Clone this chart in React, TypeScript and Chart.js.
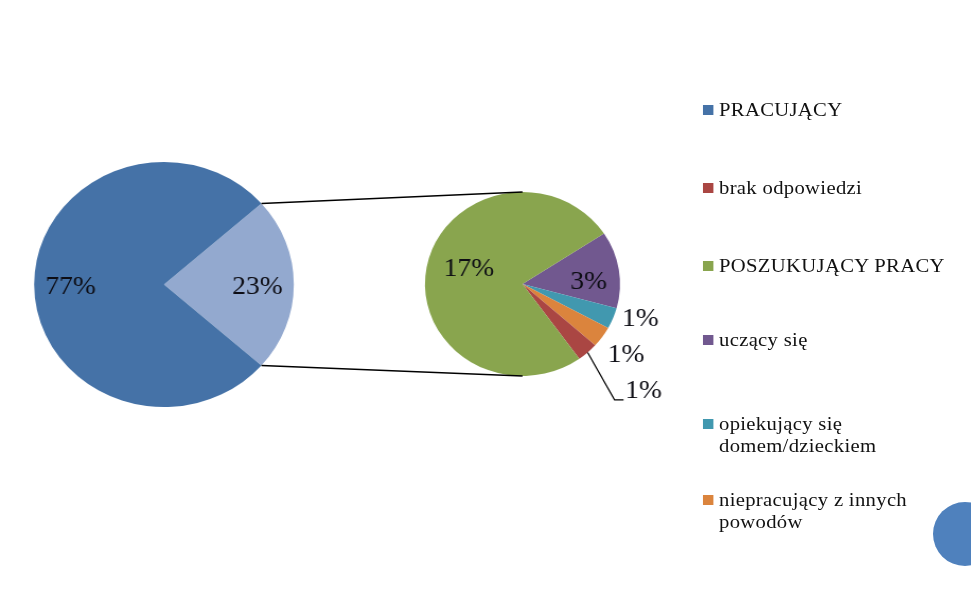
import React, { useEffect, useRef } from "react";
import { Chart, registerables } from "chart.js";

Chart.register(...registerables);

// ---------- data ----------
const workingLabel = "PRACUJĄCY";
const workingShare = 77;
const detailCategories = [
  "uczący się",
  "opiekujący się domem/dzieckiem",
  "niepracujący z innych powodów",
  "brak odpowiedzi",
  "POSZUKUJĄCY PRACY",
];
const detailValues = [3.1, 0.85, 0.85, 0.8, 17.4];
const legendCategories = [
  "PRACUJĄCY",
  "brak odpowiedzi",
  "POSZUKUJĄCY PRACY",
  "uczący się",
  "opiekujący się domem/dzieckiem",
  "niepracujący z innych powodów",
];
const legendText = [
  "PRACUJĄCY",
  "brak odpowiedzi",
  "POSZUKUJĄCY PRACY",
  "uczący się",
  "opiekujący się\ndomem/dzieckiem",
  "niepracujący z innych\npowodów",
];

// ---------- style / layout ----------
const OUTER_W = 971;
const INNER_W = 916;
const H = 601;
const SX = OUTER_W / INNER_W;

const colorOf: Record<string, string> = {
  "PRACUJĄCY": "#4572A7",
  "brak odpowiedzi": "#AA4643",
  "POSZUKUJĄCY PRACY": "#89A54E",
  "uczący się": "#71588F",
  "opiekujący się domem/dzieckiem": "#4198AF",
  "niepracujący z innych powodów": "#DB843D",
};
const otherColor = "#93A9CF";
const labelColor = "#0d0d14";
const serif = "'Liberation Serif', 'Times New Roman', serif";
const labelFont = `26px ${serif}`;
const labelDy = 2.5;

const mainCenter = { x: 154.7, y: 284.5, r: 122.5 };
const detailCenter = { x: 492.9, y: 284, r: 92 };
const mainLabelDist = 0.72;
// per-slice label placement for detail pie: distance (x radius), angular nudge (deg)
const detailLabelDist = [0.68, 1.26, 1.3, 1.68, 0.58];
const detailLabelShift = [5.4, -5.5, 0, -5.7, 8.4];
const detailLeader = [false, false, false, true, false];
const detailRotation = 56.7;
const legendRowTops = [99, 177, 255, 329, 412.5, 489];

const pct = (v: number) => Math.round(v) + "%";
const sum = (a: number[]) => a.reduce((s, v) => s + v, 0);

function paddingFor(c: { x: number; y: number; r: number }) {
  return {
    left: c.x - c.r,
    top: c.y - c.r,
    right: INNER_W - (c.x + c.r),
    bottom: H - (c.y + c.r),
  };
}

export default function App() {
  const leftRef = useRef<HTMLCanvasElement>(null);
  const rightRef = useRef<HTMLCanvasElement>(null);

  useEffect(() => {
    const otherShare = sum(detailValues);
    const mainValues = [otherShare, workingShare];
    const mainTotal = sum(mainValues);
    const mainRotation = 90 - (otherShare / mainTotal) * 180;

    const mainLabelsPlugin = {
      id: "mainLabels",
      afterDatasetsDraw(chart: any) {
        const ctx = chart.ctx;
        const meta = chart.getDatasetMeta(0);
        const vals = chart.data.datasets[0].data as number[];
        ctx.save();
        ctx.font = labelFont;
        ctx.fillStyle = labelColor;
        ctx.textAlign = "center";
        ctx.textBaseline = "middle";
        meta.data.forEach((arc: any, i: number) => {
          const a = (arc.startAngle + arc.endAngle) / 2;
          const r = arc.outerRadius * mainLabelDist;
          ctx.fillText(pct(vals[i]), arc.x + Math.cos(a) * r, arc.y + Math.sin(a) * r + labelDy);
        });
        ctx.restore();
      },
    };

    const left = new Chart(leftRef.current!, {
      type: "pie",
      data: {
        labels: ["pozostali", workingLabel],
        datasets: [
          {
            data: mainValues,
            backgroundColor: [otherColor, colorOf[workingLabel]],
            borderWidth: 0,
            hoverOffset: 0,
          } as any,
        ],
      },
      options: {
        responsive: false,
        animation: false,
        events: [],
        rotation: mainRotation,
        radius: mainCenter.r,
        layout: { padding: paddingFor(mainCenter) },
        plugins: { legend: { display: false }, tooltip: { enabled: false } },
      } as any,
      plugins: [mainLabelsPlugin],
    });

    const detailPlugin = {
      id: "detailLabels",
      afterDatasetsDraw(chart: any) {
        const ctx = chart.ctx;
        const meta = chart.getDatasetMeta(0);
        const vals = chart.data.datasets[0].data as number[];
        ctx.save();
        // connector lines from the main pie's split slice
        const lm = left.getDatasetMeta(0);
        const split: any = lm.data[0];
        const d0: any = meta.data[0];
        const R = split.outerRadius;
        ctx.strokeStyle = "#000";
        ctx.lineWidth = 1.4;
        ctx.beginPath();
        ctx.moveTo(split.x + Math.cos(split.startAngle) * R, split.y + Math.sin(split.startAngle) * R);
        ctx.lineTo(d0.x, d0.y - d0.outerRadius);
        ctx.moveTo(split.x + Math.cos(split.endAngle) * R, split.y + Math.sin(split.endAngle) * R);
        ctx.lineTo(d0.x, d0.y + d0.outerRadius);
        ctx.stroke();

        ctx.font = labelFont;
        ctx.fillStyle = labelColor;
        ctx.textAlign = "center";
        ctx.textBaseline = "middle";
        meta.data.forEach((arc: any, i: number) => {
          const mid = (arc.startAngle + arc.endAngle) / 2;
          const a = mid + (detailLabelShift[i] * Math.PI) / 180;
          const r = arc.outerRadius * detailLabelDist[i];
          const tx = arc.x + Math.cos(a) * r;
          const ty = arc.y + Math.sin(a) * r;
          const text = pct(vals[i]);
          ctx.fillText(text, tx, ty + labelDy);
          if (detailLeader[i]) {
            const w = ctx.measureText(text).width;
            const lx = tx - w / 2;
            const ly = ty + 11.7;
            ctx.beginPath();
            ctx.moveTo(arc.x + Math.cos(mid) * arc.outerRadius, arc.y + Math.sin(mid) * arc.outerRadius);
            ctx.lineTo(lx - 10, ly);
            ctx.lineTo(lx - 1.5, ly);
            ctx.lineWidth = 1.2;
            ctx.stroke();
          }
        });
        ctx.restore();
      },
    };

    const right = new Chart(rightRef.current!, {
      type: "pie",
      data: {
        labels: detailCategories,
        datasets: [
          {
            data: detailValues,
            backgroundColor: detailCategories.map((c) => colorOf[c]),
            borderWidth: 0,
            hoverOffset: 0,
          } as any,
        ],
      },
      options: {
        responsive: false,
        animation: false,
        events: [],
        rotation: detailRotation,
        radius: detailCenter.r,
        layout: { padding: paddingFor(detailCenter) },
        plugins: { legend: { display: false }, tooltip: { enabled: false } },
      } as any,
      plugins: [detailPlugin],
    });

    return () => {
      right.destroy();
      left.destroy();
    };
  }, []);

  return (
    <div
      style={{
        position: "absolute",
        left: 0,
        top: 0,
        width: OUTER_W,
        height: H,
        overflow: "hidden",
        background: "#fff",
      }}
    >
      <div
        style={{
          position: "absolute",
          left: 0,
          top: 0,
          width: INNER_W,
          height: H,
          transform: `scaleX(${SX})`,
          transformOrigin: "0 0",
        }}
      >
        <canvas ref={leftRef} width={INNER_W} height={H} style={{ position: "absolute", left: 0, top: 0 }} />
        <canvas ref={rightRef} width={INNER_W} height={H} style={{ position: "absolute", left: 0, top: 0 }} />
        {legendCategories.map((name, i) => (
          <div
            key={name}
            style={{
              position: "absolute",
              left: 663.2,
              top: legendRowTops[i],
              display: "flex",
              alignItems: "flex-start",
              fontFamily: serif,
              fontSize: 19.5,
              letterSpacing: 0.3,
              lineHeight: "22px",
              color: "#111",
            }}
          >
            <span
              style={{
                width: 9.4,
                height: 10,
                marginTop: 6,
                background: colorOf[name],
                flex: "none",
              }}
            />
            <span style={{ marginLeft: 5.7, whiteSpace: "pre" }}>{legendText[i]}</span>
          </div>
        ))}
      </div>
      <div
        style={{
          position: "absolute",
          left: 933,
          top: 502,
          width: 64,
          height: 64,
          borderRadius: "50%",
          background: "#4F81BD",
        }}
      />
    </div>
  );
}
